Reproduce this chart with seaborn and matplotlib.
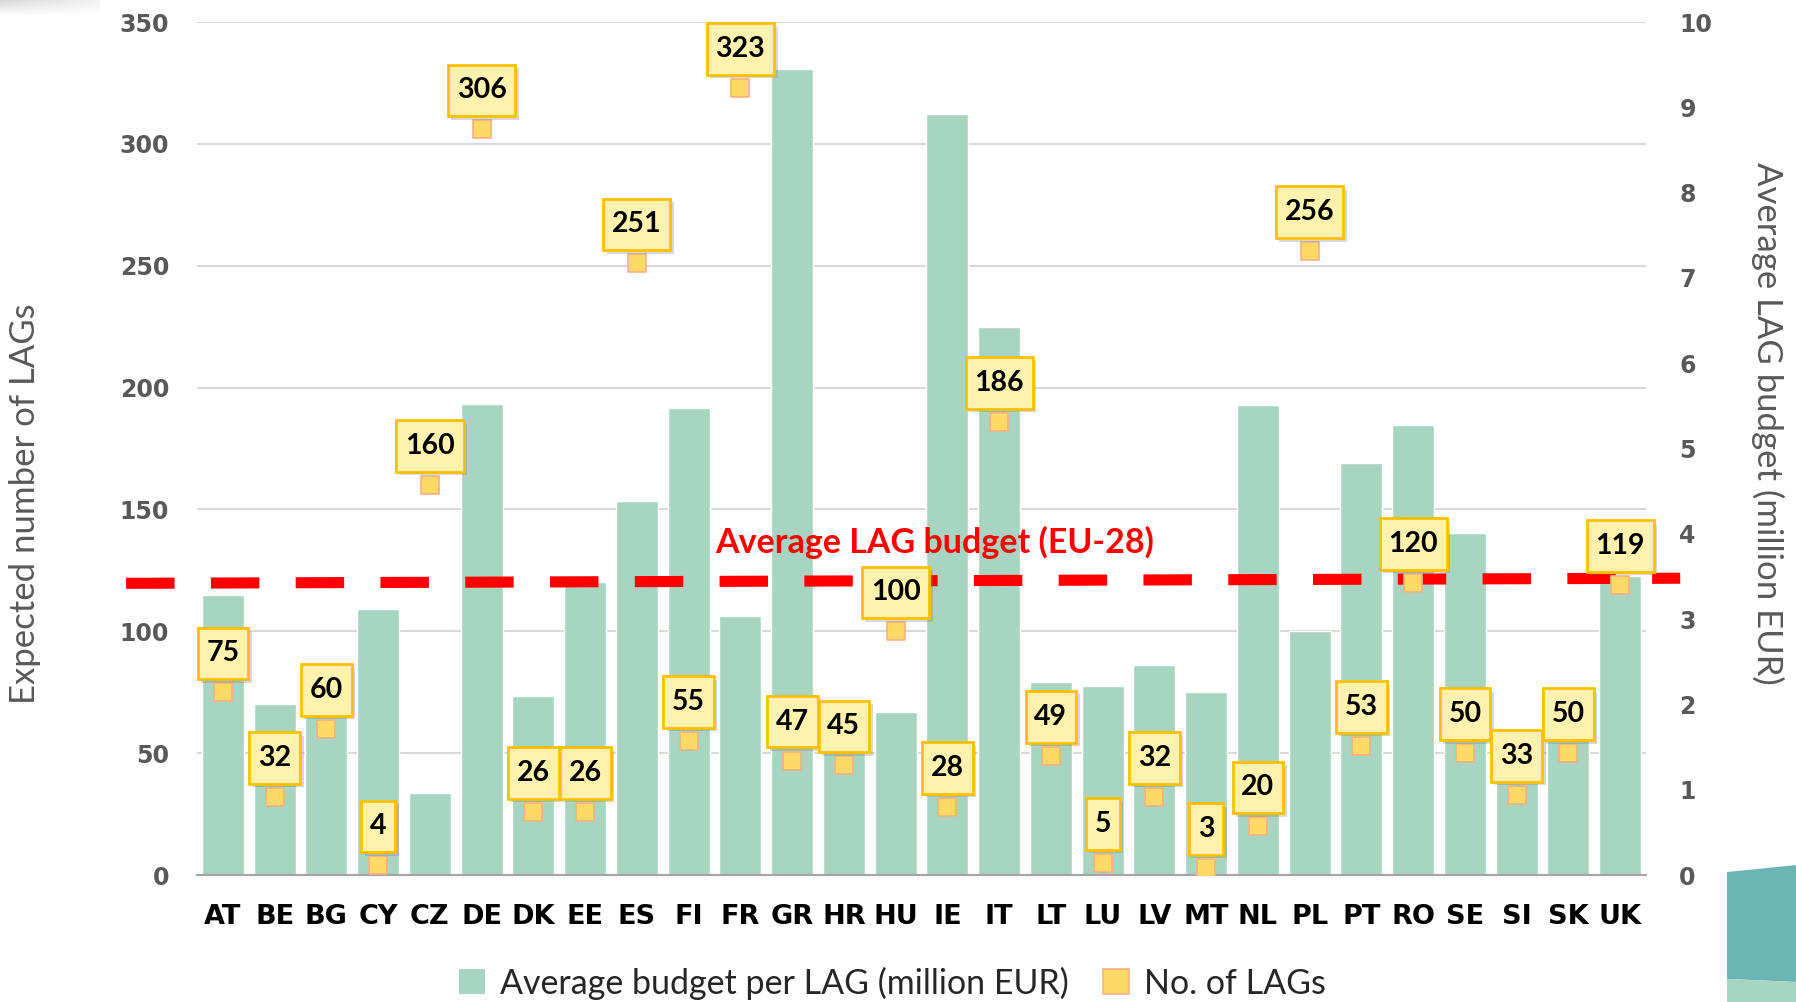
import numpy as np
import seaborn as sns
import matplotlib.pyplot as plt
from matplotlib.patches import Patch, Polygon
from matplotlib.path import Path

# data
countries = ['AT', 'BE', 'BG', 'CY', 'CZ', 'DE', 'DK', 'EE', 'ES', 'FI', 'FR', 'GR', 'HR', 'HU',
             'IE', 'IT', 'LT', 'LU', 'LV', 'MT', 'NL', 'PL', 'PT', 'RO', 'SE', 'SI', 'SK', 'UK']
n_lags = [75, 32, 60, 4, 160, 306, 26, 26, 251, 55, 323, 47, 45, 100,
          28, 186, 49, 5, 32, 3, 20, 256, 53, 120, 50, 33, 50, 119]
avg_budget = [3.28, 2.00, 2.10, 3.12, 0.96, 5.52, 2.10, 3.44, 4.38, 5.47, 3.04, 9.45, 1.80, 1.91,
              8.92, 6.42, 2.26, 2.22, 2.46, 2.15, 5.51, 2.86, 4.83, 5.28, 4.01, 1.50, 1.90, 3.50]
eu_avg_line = [3.42, 3.48]   # the drawn average line, left and right end
left_ticks = [0, 50, 100, 150, 200, 250, 300, 350]
right_ticks = list(range(0, 11))

bar_color = '#A8D5C1'
marker_fill = '#FFD966'
marker_edge = '#F4B183'


def label_box(x0, y0, width, height, mutation_size):
    # rectangle with more padding above/below than left/right
    px = 0.31 * mutation_size
    py = 0.45 * mutation_size
    return Path([(x0 - px, y0 - py), (x0 + width + px, y0 - py),
                 (x0 + width + px, y0 + height + py), (x0 - px, y0 + height + py),
                 (x0 - px, y0 - py)], closed=True)


sns.set_theme(style='white')
plt.rcParams['font.family'] = ['DejaVu Sans']
lato = ['Lato', 'DejaVu Sans']

fig = plt.figure(figsize=(17.96, 10.02), dpi=100)
ax = fig.add_axes([0.1097, 0.1267, 0.8068, 0.8513])
ax2 = ax.twinx()

# bars on the right axis
sns.barplot(x=countries, y=avg_budget, ax=ax2, color=bar_color, saturation=1,
            width=0.81, zorder=2)
ax2.set_ylim(0, 10)
# gridlines follow the left axis, drawn under the bars
for v in left_ticks[1:]:
    ax2.axhline(v * 10 / 350, color='#D9D9D9', lw=1.5, zorder=0)

# markers on the left axis, on top
ax.set_zorder(ax2.get_zorder() + 1)
ax.patch.set_visible(False)
sns.stripplot(x=countries, y=n_lags, ax=ax, jitter=False, marker='s', size=13.5,
              color=marker_fill, edgecolor=marker_edge, linewidth=1.2, zorder=3)
ax.set_ylim(0, 350)
ax.set_xlim(-0.5, len(countries) - 0.5)
ax2.set_xlim(-0.5, len(countries) - 0.5)

for i, v in enumerate(n_lags):
    ax.annotate(str(v), (i, v), xytext=(2.5, 25.5), textcoords='offset points',
                ha='center', va='center', fontsize=20.5, color='none', family=lato,
                fontweight='bold', zorder=4,
                bbox=dict(boxstyle=label_box, fc='#7F7F7F', ec='none', alpha=0.3))
    ax.annotate(str(v), (i, v), xytext=(0, 28), textcoords='offset points',
                ha='center', va='center', fontsize=20.5, color='black', family=lato,
                fontweight='bold', zorder=5,
                bbox=dict(boxstyle=label_box, fc='#FFF2AE', ec='#FFC000', lw=2))

# average line and its caption
ax2.plot([-1.87, 28.16], eu_avg_line, color='#FF0000', lw=8, dashes=(4.36, 3.27),
         solid_capstyle='butt', dash_capstyle='butt', clip_on=False, zorder=6)
ax.text(13.76, 136.6, 'Average LAG budget (EU-28)', color='#FF0000', fontsize=24.5,
        fontweight='bold', family=lato, ha='center', va='center', zorder=6)

# axes styling
ax.set_yticks(left_ticks)
ax2.set_yticks(right_ticks)
ax.set_xticks(range(len(countries)))
ax.set_xticklabels(countries, fontsize=19.5, fontweight='bold', color='black')
ax.set_xticks(np.arange(-0.5, len(countries), 1), minor=True)
ax.tick_params(axis='x', which='major', length=0, pad=21)
ax.tick_params(axis='x', which='minor', length=10, width=1.5, color='#A6A6A6', direction='out')
ax.tick_params(axis='y', length=0, labelsize=17, labelcolor='#595959', pad=20)
ax2.tick_params(axis='y', length=0, labelsize=17, labelcolor='#595959', pad=24)
ax2.tick_params(axis='x', length=0, labelbottom=False)
for t in ax.get_yticklabels() + ax2.get_yticklabels():
    t.set_fontweight('bold')
for a in (ax, ax2):
    for s in ('left', 'right', 'top'):
        a.spines[s].set_visible(False)
    a.spines['bottom'].set_color('#A6A6A6')
    a.spines['bottom'].set_linewidth(1.5)
    a.set_xlabel('')
    a.grid(False)

fig.text(0.014, 0.497, 'Expected number of LAGs', rotation=90, ha='center', va='center',
         fontsize=25, color='#595959', family=lato)
fig.text(0.984, 0.577, 'Average LAG budget (million EUR)', rotation=270, ha='center', va='center',
         fontsize=25, color='#595959', family=lato)

handles = [Patch(fc=bar_color, ec='none', label='Average budget per LAG (million EUR)'),
           Patch(fc=marker_fill, ec=marker_edge, lw=1.2, label='No. of LAGs')]
fig.legend(handles=handles, loc='center', bbox_to_anchor=(0.497, 0.019), ncol=2, frameon=False,
           handlelength=0.75, handleheight=0.75, handletextpad=0.45, columnspacing=1.0,
           prop={'family': lato, 'size': 24.5}, labelcolor='#262626')

# slide decoration: faint shadow top left, teal shape lower right
shade = np.ones((16, 100, 4))
shade[..., :3] = 0.75
shade[..., 3] = np.linspace(0.6, 0.0, 16)[:, None] * np.linspace(1.0, 0.3, 100)[None, :]
fig.figimage(shade, xo=0, yo=1002 - 16, origin='upper', zorder=10)
fig.patches.append(Polygon([[0.9616, 0.1297], [1.0, 0.1367], [1.0, 0.02], [0.9616, 0.023]],
                           closed=True, transform=fig.transFigure, fc='#6CB5B5', ec='none'))
fig.patches.append(Polygon([[0.9616, 0.023], [1.0, 0.02], [1.0, 0.0], [0.9616, 0.0]],
                           closed=True, transform=fig.transFigure, fc='#A8D5C1', ec='none'))

fig.savefig('out.png', dpi=100)
